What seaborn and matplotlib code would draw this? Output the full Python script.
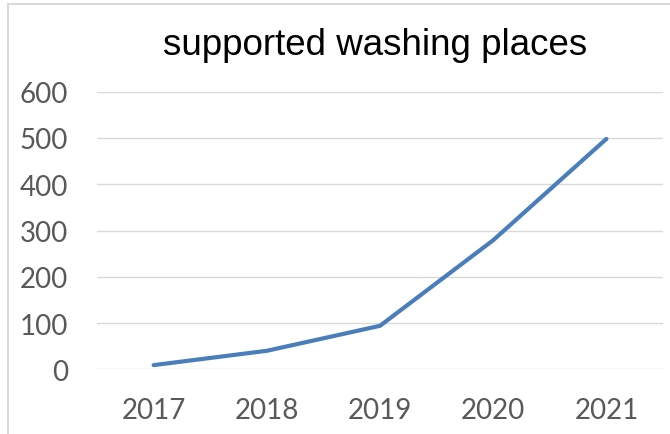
import matplotlib
matplotlib.use("Agg")
import matplotlib.pyplot as plt
import seaborn as sns
import pandas as pd
from matplotlib.patches import Rectangle

years = ["2017", "2018", "2019", "2020", "2021"]
places = [9, 40, 94, 279, 498]
y_ticks = [0, 100, 200, 300, 400, 500, 600]
title = "supported washing places"

sns.set_theme(style="white")
plt.rcParams['font.family'] = ['Lato', 'DejaVu Sans']

df = pd.DataFrame({"year": years, "places": places})
df["pos"] = range(len(years))

fig = plt.figure(figsize=(6.7, 4.35), dpi=100)
ax = fig.add_axes([97 / 670, 1 - 370.3 / 435, (663 - 97) / 670, (370.3 - 92.7) / 435])

for yt in y_ticks:
    ax.axhline(yt, color="#d9d9d9", lw=1.0, zorder=0)

sns.lineplot(data=df, x="pos", y="places", ax=ax, color="#4a7ebb", lw=3.0,
             solid_capstyle="round", solid_joinstyle="round", zorder=3)

ax.set_xlim(-0.5, len(years) - 0.5)
ax.set_ylim(0, 600)
ax.set_xticks(range(len(years)))
ax.set_xticklabels(years)
ax.set_yticks(y_ticks)
ax.set_yticklabels([str(v) for v in y_ticks])
ax.tick_params(axis="y", length=0, pad=21, labelsize=20, labelcolor="#595959")
ax.tick_params(axis="x", length=0, pad=20, labelsize=20, labelcolor="#595959")
ax.set_xlabel("")
ax.set_ylabel("")
for s in ax.spines.values():
    s.set_visible(False)
ax.grid(False)

fig.text(375 / 670, 1 - 55 / 435, title, ha="center", va="baseline",
         fontsize=26.5, color="black", family=["Liberation Sans", "DejaVu Sans"])

# chart frame
fig.patches.append(Rectangle((8 / 670, -0.1), 1.2, 1 - 4.5 / 435 + 0.1,
                             transform=fig.transFigure, fill=False,
                             edgecolor="#d9d9d9", lw=1.5, zorder=10))

fig.savefig("out.png", dpi=100)
